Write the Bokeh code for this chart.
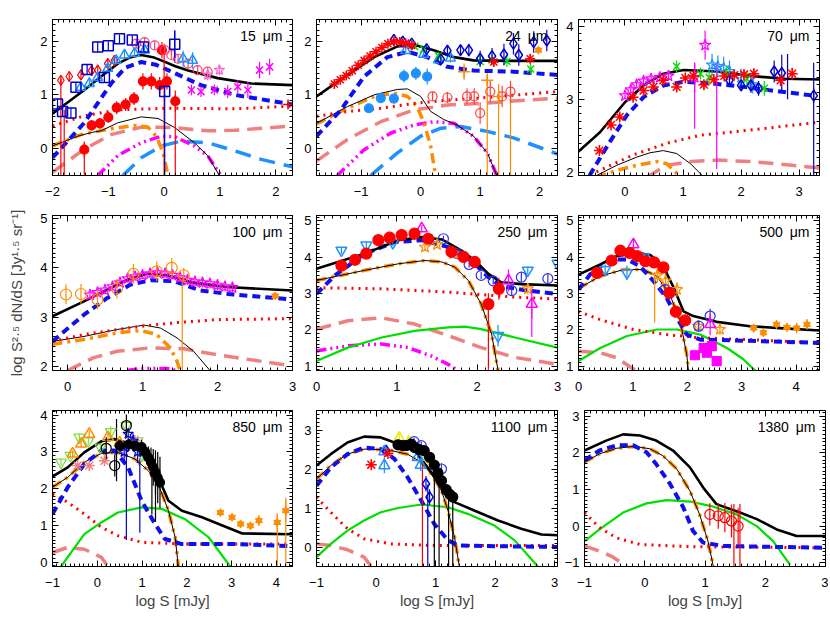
import numpy as np
from bokeh.plotting import figure
from bokeh.layouts import column, row
from bokeh.models import Range1d, FixedTicker, LinearAxis, Label
from bokeh.embed import file_html
from bokeh.resources import INLINE

FONT = "Liberation Sans"

# ------------------------------------------------------------------ curves
# each curve: list of (log S [mJy], log S^2.5 dN/dS)
# 15 micron
w15_total = [(-2.0, 0.65), (-1.43, 1.09), (-1.13, 1.34), (-0.83, 1.58), (-0.6, 1.70), (-0.41, 1.74), (-0.2, 1.70), (-0.05, 1.64), (0.2, 1.53), (0.43, 1.45), (0.96, 1.31), (1.56, 1.21), (2.3, 1.18)]
w15_blue = [(-2.0, -0.17), (-1.43, 0.48), (-0.95, 1.21), (-0.7, 1.50), (-0.41, 1.61), (-0.15, 1.56), (0.07, 1.46), (0.66, 1.18), (1.26, 1.0), (2.3, 0.82)]
w15_dot = [(-2.0, 0.42), (-1.43, 0.61), (-0.83, 0.72), (0.07, 0.75), (1.26, 0.74), (2.3, 0.79)]
w15_thin = [(-2.0, 0.05), (-1.55, 0.23), (-1.3, 0.30), (-1.13, 0.33), (-0.83, 0.48), (-0.41, 0.59), (-0.11, 0.56), (0.19, 0.39), (0.54, 0.11), (0.78, -0.13), (0.99, -0.5)]
w15_orange = [(-2.0, 0.05), (-1.49, 0.26), (-0.95, 0.37), (-0.53, 0.43), (-0.29, 0.40), (-0.14, 0.23), (-0.02, -0.07), (0.07, -0.5)]
w15_salmon = [(-2.0, -0.44), (-1.43, -0.01), (-0.95, 0.26), (-0.41, 0.40), (0.19, 0.39), (0.78, 0.33), (1.26, 0.34), (2.3, 0.42)]
w15_mag = [(-1.19, -0.5), (-0.83, -0.13), (-0.41, 0.11), (-0.05, 0.23), (0.19, 0.22), (0.54, 0.05), (0.78, -0.13), (1.02, -0.5)]
w15_lb = [(-0.74, -0.5), (-0.41, -0.17), (-0.05, 0.05), (0.31, 0.14), (0.78, 0.11), (1.26, -0.04), (1.74, -0.20), (2.3, -0.34)]

# 24 micron
w24_total = [(-1.75, 0.97), (-1.23, 1.37), (-0.78, 1.70), (-0.39, 1.90), (-0.11, 1.93), (0.22, 1.83), (0.56, 1.70), (0.89, 1.64), (1.56, 1.63), (2.3, 1.63)]
w24_blue = [(-1.75, 0.23), (-1.34, 0.72), (-0.95, 1.34), (-0.56, 1.70), (-0.22, 1.80), (0.11, 1.70), (0.45, 1.52), (0.89, 1.45), (1.56, 1.43), (2.3, 1.37)]
w24_dot = [(-1.75, 0.60), (-1.23, 0.69), (-0.67, 0.75), (-0.11, 0.84), (0.45, 0.90), (1.0, 0.94), (2.3, 1.06)]
w24_thin = [(-1.75, 0.47), (-1.23, 0.78), (-0.78, 1.0), (-0.39, 1.10), (-0.22, 1.11), (0.0, 0.97), (0.17, 0.69), (0.39, 0.54), (0.61, 0.44), (0.89, 0.23), (1.12, -0.08), (1.28, -0.5)]
w24_orange = [(-1.75, 0.46), (-1.23, 0.75), (-0.78, 0.97), (-0.45, 1.03), (-0.22, 0.97), (-0.06, 0.78), (0.06, 0.47), (0.17, 0.04), (0.25, -0.5)]
w24_salmon = [(-1.75, -0.23), (-1.23, 0.17), (-0.67, 0.50), (-0.11, 0.72), (0.45, 0.81), (1.0, 0.84), (2.3, 0.94)]
w24_mag = [(-1.4, -0.5), (-0.95, -0.02), (-0.5, 0.29), (-0.11, 0.44), (0.22, 0.50), (0.56, 0.47), (0.89, 0.23), (1.12, -0.08), (1.28, -0.5)]
w24_lb = [(-0.84, -0.5), (-0.39, -0.08), (0.0, 0.23), (0.34, 0.38), (0.67, 0.41), (1.12, 0.32), (1.56, 0.20), (2.3, -0.10)]

# 70 micron
w70_total = [(-0.81, 2.28), (-0.43, 2.55), (0.0, 2.96), (0.32, 3.19), (0.66, 3.35), (1.01, 3.40), (1.59, 3.38), (2.16, 3.32), (2.74, 3.28), (3.36, 3.27)]
w70_blue = [(-0.61, 1.96), (-0.26, 2.42), (0.03, 2.78), (0.32, 3.03), (0.66, 3.19), (1.01, 3.24), (1.59, 3.21), (2.05, 3.17), (2.63, 3.11), (3.26, 3.05)]
w70_dot = [(-0.49, 2.01), (0.14, 2.24), (0.72, 2.40), (1.30, 2.51), (2.16, 2.58), (3.36, 2.69)]
w70_thin = [(-0.49, 1.96), (-0.14, 2.10), (0.2, 2.21), (0.43, 2.27), (0.66, 2.30), (0.89, 2.26), (1.13, 2.12), (1.33, 1.96)]
w70_orange = [(-0.49, 1.94), (-0.14, 2.03), (0.2, 2.10), (0.55, 2.15), (0.72, 2.12), (0.87, 2.01), (0.92, 1.94)]
w70_salmon = [(0.38, 1.94), (0.72, 2.10), (1.13, 2.15), (1.59, 2.17), (2.16, 2.15), (2.74, 2.11), (3.36, 2.06)]

# 100 micron
w100_total = [(-0.2, 3.02), (0.22, 3.32), (0.53, 3.56), (0.8, 3.76), (1.06, 3.88), (1.33, 3.85), (1.68, 3.70), (2.12, 3.61), (3.0, 3.54)]
w100_blue = [(-0.2, 2.51), (0.22, 3.05), (0.53, 3.39), (0.84, 3.66), (1.11, 3.75), (1.42, 3.73), (1.77, 3.54), (2.21, 3.46), (3.0, 3.36)]
w100_dot = [(-0.2, 2.51), (0.22, 2.65), (0.66, 2.75), (1.02, 2.82), (1.46, 2.89), (1.99, 2.95), (3.0, 2.97)]
w100_thin = [(-0.2, 2.51), (0.22, 2.61), (0.66, 2.75), (1.02, 2.84), (1.24, 2.78), (1.46, 2.58), (1.68, 2.31), (1.9, 1.92)]
w100_orange = [(-0.2, 2.45), (0.22, 2.55), (0.66, 2.68), (0.97, 2.73), (1.19, 2.65), (1.37, 2.38), (1.46, 2.11), (1.5, 1.92)]
w100_salmon = [(0.0, 1.92), (0.35, 2.18), (0.66, 2.31), (1.11, 2.38), (1.55, 2.36), (1.99, 2.24), (2.57, 2.11), (3.0, 2.01)]
w100_mag = [(0.8, 1.92), (0.97, 1.96), (1.33, 1.96), (1.46, 1.92)]

# 250 micron
w250_total = [(0.0, 3.68), (0.6, 4.10), (1.02, 4.47), (1.31, 4.56), (1.56, 4.49), (1.80, 4.19), (1.97, 3.91), (2.14, 3.54), (2.3, 3.31), (2.55, 3.26), (3.0, 3.22)]
w250_blue = [(0.0, 2.99), (0.23, 3.50), (0.6, 4.10), (0.98, 4.42), (1.31, 4.47), (1.64, 4.28), (1.93, 3.91), (2.14, 3.45), (2.3, 3.20), (2.63, 3.08), (3.0, 2.99)]
w250_dot = [(0.0, 3.16), (0.81, 3.13), (1.64, 3.04), (2.47, 2.90), (3.0, 2.85)]
w250_orange = [(0.0, 3.36), (0.6, 3.64), (1.02, 3.82), (1.35, 3.91), (1.56, 3.87), (1.72, 3.73), (1.89, 3.36), (2.05, 2.71), (2.18, 1.88), (2.26, 0.88)]
w250_salmon = [(0.0, 2.02), (0.39, 2.25), (0.81, 2.33), (1.22, 2.16), (1.64, 1.84), (2.05, 1.51), (2.47, 1.24), (3.0, 1.05)]
w250_green = [(0.0, 1.14), (0.39, 1.51), (0.81, 1.79), (1.22, 1.97), (1.64, 2.07), (1.85, 2.09), (2.05, 2.02), (2.47, 1.79), (3.0, 1.51)]
w250_mag = [(0.0, 1.42), (0.39, 1.56), (0.81, 1.61), (1.14, 1.51), (1.43, 1.28), (1.64, 1.05), (1.76, 0.88)]

# 500 micron
w500_total = [(0.0, 3.52), (0.4, 3.80), (0.7, 4.03), (1.07, 4.12), (1.32, 4.06), (1.56, 3.75), (1.75, 3.16), (1.93, 2.51), (2.11, 2.38), (2.54, 2.22), (3.15, 2.10), (3.77, 2.04), (4.43, 1.98)]
w500_blue = [(0.0, 3.11), (0.21, 3.52), (0.58, 3.94), (0.89, 3.94), (1.13, 3.75), (1.38, 3.34), (1.62, 2.88), (1.81, 2.33), (1.99, 1.87), (2.24, 1.73), (2.85, 1.71), (4.43, 1.64)]
w500_dot = [(0.0, 2.51), (0.4, 2.28), (1.01, 2.01), (1.62, 1.87), (2.24, 1.78), (3.15, 1.73), (4.43, 1.64)]
w500_orange = [(0.0, 3.14), (0.4, 3.48), (0.83, 3.66), (1.19, 3.66), (1.44, 3.48), (1.68, 2.97), (1.87, 2.24), (1.99, 1.32), (2.02, 0.88)]
w500_salmon = [(0.0, 1.41), (0.4, 1.37), (0.7, 1.23), (1.07, 0.86)]
w500_green = [(0.0, 1.14), (0.4, 1.50), (0.89, 1.83), (1.44, 2.01), (1.81, 2.01), (2.24, 1.87), (2.73, 1.50), (3.03, 1.19), (3.25, 0.87)]

# 850 micron
w850_total = [(-1.0, 2.33), (-0.66, 2.58), (-0.29, 2.99), (0.09, 3.29), (0.39, 3.35), (0.76, 3.22), (1.06, 2.85), (1.36, 2.31), (1.59, 1.67), (1.89, 1.40), (2.34, 1.22), (2.71, 1.04), (3.24, 0.78), (4.36, 0.76)]
w850_blue = [(-1.0, 1.31), (-0.66, 2.04), (-0.29, 2.67), (0.09, 3.04), (0.39, 3.04), (0.69, 2.58), (0.99, 1.67), (1.29, 1.04), (1.51, 0.63), (1.89, 0.49), (3.09, 0.49), (4.36, 0.43)]
w850_dot = [(-1.0, 1.85), (-0.66, 1.63), (-0.29, 1.31), (0.09, 0.95), (0.46, 0.72), (0.99, 0.54), (1.96, 0.49), (4.36, 0.49)]
w850_orange = [(-1.0, 2.04), (-0.66, 2.31), (-0.29, 2.72), (0.09, 2.96), (0.46, 2.99), (0.84, 2.81), (1.14, 2.49), (1.36, 2.13), (1.59, 1.40), (1.74, 0.67), (1.81, -0.12)]
w850_salmon = [(-1.0, 0.26), (-0.66, 0.40), (-0.29, 0.35), (0.09, 0.13), (0.24, -0.12)]
w850_green = [(-0.81, -0.12), (-0.29, 0.76), (0.09, 1.08), (0.46, 1.35), (0.99, 1.49), (1.44, 1.45), (1.96, 1.17), (2.49, 0.67), (2.97, -0.12)]

# 1100 micron
w1100_total = [(-1.0, 2.09), (-0.76, 2.38), (-0.48, 2.68), (-0.2, 2.83), (0.08, 2.81), (0.31, 2.68), (0.65, 2.47), (0.87, 2.04), (1.1, 1.53), (1.32, 1.15), (1.66, 0.93), (2.05, 0.68), (2.44, 0.47), (2.78, 0.32), (3.05, 0.30)]
w1100_blue = [(-1.0, 1.57), (-0.76, 2.04), (-0.48, 2.38), (-0.2, 2.55), (0.08, 2.51), (0.31, 2.26), (0.53, 1.79), (0.76, 1.19), (0.98, 0.59), (1.21, 0.17), (1.38, 0.04), (2.05, 0.02), (3.05, 0.0)]
w1100_dot = [(-1.0, 1.28), (-0.76, 0.89), (-0.48, 0.47), (-0.2, 0.21), (0.25, 0.08), (0.93, 0.04), (3.05, 0.04)]
w1100_orange = [(-1.0, 1.74), (-0.76, 2.09), (-0.48, 2.38), (-0.2, 2.51), (0.2, 2.49), (0.53, 2.38), (0.76, 2.17), (0.93, 1.87), (1.1, 1.45), (1.21, 0.93), (1.32, 0.25), (1.40, -0.5)]
w1100_salmon = [(-1.0, 0.08), (-0.76, 0.04), (-0.48, -0.07), (-0.2, -0.26), (-0.08, -0.5)]
w1100_green = [(-1.0, -0.26), (-0.76, 0.08), (-0.48, 0.42), (-0.2, 0.68), (0.08, 0.89), (0.37, 1.0), (0.76, 1.09), (1.21, 1.02), (1.54, 0.85), (1.99, 0.55), (2.33, 0.17), (2.72, -0.5)]

# 1380 micron
w1380_total = [(-1.0, 2.06), (-0.64, 2.33), (-0.36, 2.50), (-0.08, 2.47), (0.19, 2.33), (0.47, 2.06), (0.75, 1.60), (0.97, 1.05), (1.19, 0.60), (1.58, 0.37), (1.86, 0.19), (2.19, -0.09), (2.52, -0.27), (3.0, -0.27)]
w1380_blue = [(-1.0, 1.79), (-0.75, 2.06), (-0.47, 2.20), (-0.19, 2.20), (0.03, 2.01), (0.19, 1.69), (0.42, 1.15), (0.64, 0.51), (0.80, -0.13), (0.97, -0.45), (1.30, -0.54), (3.0, -0.59)]
w1380_dot = [(-1.0, 0.37), (-0.75, -0.04), (-0.47, -0.32), (-0.08, -0.50), (0.75, -0.56), (3.0, -0.59)]
w1380_orange = [(-1.0, 1.74), (-0.75, 1.97), (-0.47, 2.12), (-0.19, 2.17), (0.08, 2.11), (0.30, 1.92), (0.53, 1.56), (0.75, 0.96), (0.91, 0.32), (1.05, -0.41), (1.14, -1.11)]
w1380_salmon = [(-1.0, -0.54), (-0.75, -0.68), (-0.53, -0.84), (-0.39, -1.0), (-0.3, -1.11)]
w1380_green = [(-1.0, -0.41), (-0.75, -0.09), (-0.36, 0.37), (0.03, 0.62), (0.36, 0.71), (0.75, 0.67), (1.14, 0.53), (1.52, 0.32), (1.86, 0.0), (2.13, -0.41), (2.41, -1.05)]

# ------------------------------------------------------------------ data points (x, y, err)
d15_sq = [(-1.91, 0.83, 0.1), (-1.82, 0.69, 0.1), (-1.67, 0.66, 0.1), (-1.58, 1.14, 0.1), (-1.38, 1.47, 0.1), (-1.07, 1.32, 0.1), (-1.19, 1.89, 0.1), (-1.0, 1.91, 0.08), (-0.8, 2.04, 0.08), (-0.57, 2.02, 0.08), (-0.37, 1.89, 0.08), (0.01, 1.06, 0.1), (0.19, 1.94, 0.25)]
d15_dm = [(-1.85, 1.27, 0.1), (-1.7, 1.34, 0.1), (-1.49, 1.37, 0.1), (-1.3, 1.45, 0.1), (-1.19, 1.46, 0.1), (-1.01, 1.58, 0.1), (-0.89, 1.64, 0.1)]
d15_fc = [(-1.43, -0.02, 0.15), (-1.3, 0.43, 0.1), (-1.15, 0.47, 0.1), (-1.0, 0.58, 0.1), (-0.85, 0.76, 0.12), (-0.69, 0.82, 0.12), (-0.54, 0.93, 0.12), (-0.38, 1.25, 0.15), (-0.23, 1.25, 0.15), (-0.08, 1.18, 0.15), (0.05, 1.25, 0.15), (0.2, 0.88, 0.2), (-0.04, 1.83, 0.15)]
d15_tr = [(-1.49, 1.14, 0.08), (-1.34, 1.21, 0.08), (-1.19, 1.32, 0.08), (-1.01, 1.49, 0.08), (-0.86, 1.64, 0.08), (-0.71, 1.74, 0.08), (-0.53, 1.77, 0.08), (-0.35, 1.83, 0.08), (0.34, 1.67, 0.15), (0.51, 1.64, 0.15)]
d15_oc = [(-0.5, 1.95, 0.08), (-0.35, 1.98, 0.08), (-0.17, 1.92, 0.08), (0.01, 1.83, 0.08), (0.13, 1.74, 0.08), (0.25, 1.67, 0.08), (0.43, 1.58, 0.08), (0.6, 1.46, 0.08), (0.78, 1.43, 0.08)]
d15_mx = [(0.49, 1.09, 0.1), (0.66, 1.06, 0.1), (0.9, 1.09, 0.1), (1.14, 1.06, 0.12), (1.32, 1.15, 0.12), (1.5, 1.09, 0.15), (1.71, 1.46, 0.15), (1.89, 1.52, 0.15)]
d15_st = [(0.78, 1.37, 0.1), (0.99, 1.46, 0.1)]
d15_pl = [(2.22, 0.82, 0.05)]
b15_red = [(-1.85, -0.5, 1.3), (-1.79, -0.5, 0.72), (-1.43, -0.5, 0.1), (0.0, -0.5, 1.95), (0.2, -0.5, 1.0)]
b15_blue = [(0.01, -0.5, 1.0), (0.19, 1.6, 2.2)]

d24_as = [(-1.45, 1.2, 0.05), (-1.35, 1.28, 0.05), (-1.25, 1.36, 0.05), (-1.15, 1.45, 0.05), (-1.05, 1.55, 0.05), (-0.95, 1.64, 0.05), (-0.85, 1.72, 0.05), (-0.75, 1.80, 0.05), (-0.65, 1.88, 0.05), (-0.55, 1.95, 0.05), (-0.45, 1.99, 0.05), (-0.35, 1.98, 0.05), (-0.25, 1.96, 0.05), (-0.15, 1.92, 0.05), (1.23, 1.61, 0.08), (1.84, 1.67, 0.08)]
d24_dd = [(-0.45, 2.02, 0.05), (-0.3, 1.99, 0.05), (-0.15, 1.95, 0.05), (0.1, 1.85, 0.06), (0.34, 1.66, 0.08), (0.45, 1.82, 0.1), (0.67, 1.83, 0.1), (0.81, 1.83, 0.12), (1.0, 1.67, 0.15), (1.2, 1.72, 0.15), (1.4, 1.75, 0.2), (1.56, 1.95, 0.2), (1.65, 1.74, 0.2), (1.9, 1.98, 0.2), (2.12, 2.01, 0.2)]
d24_gx = [(-0.1, 1.90, 0.05), (0.05, 1.85, 0.05), (0.3, 1.72, 0.08), (1.0, 1.62, 0.1), (1.2, 1.65, 0.1), (1.45, 1.62, 0.1), (1.85, 1.48, 0.1)]
d24_tr = [(-0.25, 1.82, 0.05), (0.05, 1.75, 0.05), (0.3, 1.65, 0.08), (0.5, 1.68, 0.08)]
d24_fc = [(-0.87, 0.75, 0.08), (-0.67, 0.94, 0.08), (-0.45, 0.93, 0.08), (-0.28, 1.35, 0.12), (-0.08, 1.40, 0.12), (0.11, 1.34, 0.15)]
d24_oc = [(0.2, 0.97, 0.08), (0.45, 0.95, 0.1), (0.78, 0.97, 0.15), (0.9, 0.97, 0.15), (1.17, 1.06, 0.2), (1.37, 0.97, 0.2), (1.51, 1.06, 0.2), (1.0, 0.66, 0.2)]
d24_op = [(0.73, 1.43, 0.15), (1.12, 1.27, 0.1), (1.31, 0.97, 0.1)]
d24_hg = [(1.98, 1.83, 0.05)]
b24_orange = [(1.12, -0.5, 1.4), (1.31, -0.5, 1.2), (1.51, -0.5, 1.2)]

d70_as = [(-0.44, 2.30, 0.05), (-0.24, 2.65, 0.05), (-0.09, 2.76, 0.05), (0.14, 3.03, 0.05), (0.32, 3.12, 0.05), (0.49, 3.17, 0.05), (0.66, 3.26, 0.05), (0.89, 3.17, 0.06), (1.04, 3.29, 0.06), (1.18, 3.32, 0.06), (1.36, 3.20, 0.06), (1.53, 3.27, 0.06), (1.71, 3.32, 0.06), (1.88, 3.33, 0.06), (2.05, 3.34, 0.06), (2.22, 3.35, 0.06), (2.68, 3.26, 0.08), (2.88, 3.35, 0.08)]
d70_ms = [(0.0, 3.05, 0.05), (0.1, 3.13, 0.05), (0.2, 3.20, 0.05), (0.32, 3.25, 0.05), (0.45, 3.28, 0.05), (0.6, 3.30, 0.06), (0.75, 3.32, 0.06), (1.2, 3.30, 0.2), (1.38, 3.74, 0.2)]
d70_lbs = [(1.5, 3.47, 0.15), (1.6, 3.45, 0.15), (1.7, 3.43, 0.15), (1.8, 3.38, 0.15), (2.0, 3.30, 0.12), (2.2, 3.20, 0.12)]
d70_gx = [(0.89, 3.45, 0.08), (1.3, 3.35, 0.08), (1.45, 3.30, 0.1), (1.75, 3.35, 0.1), (2.1, 3.28, 0.1), (2.4, 3.15, 0.1)]
d70_dd = [(1.8, 3.26, 0.08), (2.0, 3.19, 0.08), (2.17, 3.19, 0.1), (2.3, 3.15, 0.1), (2.57, 3.38, 0.15), (2.7, 3.36, 0.25), (3.25, 3.05, 0.1)]
b70_blue = [(3.25, 1.96, 3.5), (2.8, 3.0, 3.62)]
b70_mag = [(1.58, 2.05, 3.5), (1.2, 2.6, 3.5)]

d100_ms = [(0.3, 3.45, 0.08), (0.4, 3.50, 0.08), (0.5, 3.55, 0.08), (0.6, 3.62, 0.08), (0.7, 3.70, 0.08), (0.8, 3.78, 0.08), (0.9, 3.82, 0.08), (1.0, 3.85, 0.08), (1.1, 3.88, 0.08), (1.2, 3.90, 0.08), (1.3, 3.88, 0.08), (1.4, 3.85, 0.08), (1.5, 3.80, 0.08), (1.6, 3.75, 0.1), (1.7, 3.72, 0.1), (1.8, 3.70, 0.1), (1.9, 3.68, 0.1), (2.0, 3.65, 0.1), (2.1, 3.62, 0.1), (2.2, 3.60, 0.1)]
d100_oc = [(-0.02, 3.46, 0.2), (0.18, 3.47, 0.2), (0.40, 3.36, 0.2), (0.66, 3.58, 0.2), (0.88, 3.88, 0.2), (1.19, 3.93, 0.2), (1.39, 4.0, 0.2), (1.55, 3.85, 0.15)]
d100_hg = [(2.77, 3.43, 0.05)]
b100_orange = [(1.53, 1.92, 3.85)]

d250_fc = [(0.31, 3.77, 0.05), (0.48, 3.93, 0.05), (0.62, 4.10, 0.05), (0.77, 4.47, 0.05), (0.91, 4.54, 0.05), (1.06, 4.61, 0.05), (1.22, 4.65, 0.05), (1.39, 4.51, 0.05), (1.68, 4.15, 0.05), (1.83, 4.01, 0.05), (1.97, 3.87, 0.05), (2.14, 2.71, 0.3), (2.27, 3.13, 0.3)]
d250_it = [(0.31, 4.19, 0.1), (0.62, 4.33, 0.1), (0.95, 4.40, 0.1), (2.26, 1.84, 0.3), (2.63, 3.64, 0.1), (3.0, 3.83, 0.1)]
d250_bo = [(1.58, 4.51, 0.08), (1.75, 4.10, 0.08), (1.9, 3.80, 0.08), (2.05, 3.50, 0.1), (2.2, 3.35, 0.1), (2.43, 3.08, 0.12), (2.55, 3.45, 0.12), (2.88, 3.41, 0.15)]
d250_mt = [(1.31, 4.79, 0.1), (2.39, 3.36, 0.3), (2.68, 2.71, 0.4)]
d250_os = [(1.35, 4.28, 0.1), (1.5, 4.35, 0.1), (1.7, 4.10, 0.1), (2.63, 3.13, 0.15)]
b250_red = [(2.14, 0.9, 2.9)]
b250_mag = [(2.68, 1.8, 2.9)]

d500_fc = [(0.34, 3.57, 0.05), (0.61, 3.91, 0.05), (0.77, 4.18, 0.05), (0.94, 4.12, 0.05), (1.08, 4.03, 0.05), (1.23, 3.89, 0.05), (1.39, 3.86, 0.05), (1.56, 3.72, 0.05), (1.67, 3.02, 0.1), (1.79, 2.50, 0.1), (1.96, 2.26, 0.1)]
d500_mt = [(1.01, 4.35, 0.15), (2.42, 2.15, 0.3)]
d500_msq = [(2.14, 1.30, 0.08), (2.30, 1.50, 0.08), (2.36, 1.37, 0.08), (2.45, 1.55, 0.1), (2.54, 1.14, 0.1)]
d500_hg = [(3.22, 2.05, 0.12), (3.4, 1.92, 0.12), (3.64, 2.15, 0.12), (3.83, 2.07, 0.12), (4.01, 2.05, 0.15), (4.2, 2.15, 0.15)]
d500_os = [(1.45, 3.50, 0.2), (1.6, 3.35, 0.2), (1.81, 3.11, 0.2), (2.2, 2.10, 0.15), (2.6, 2.01, 0.15)]
d500_bo = [(1.59, 3.11, 0.15), (2.21, 2.10, 0.15), (2.42, 2.38, 0.2)]
d500_it = [(0.49, 3.66, 0.15), (0.89, 3.57, 0.2), (1.2, 4.00, 0.1)]
b500_orange = [(1.4, 2.2, 3.6)]

d850_gt = [(-0.81, 2.72, 0.1), (-0.6, 2.90, 0.1), (-0.4, 3.40, 0.1), (-0.2, 3.30, 0.1), (0.07, 3.13, 0.1), (0.3, 3.55, 0.15), (0.65, 3.72, 0.15), (0.9, 3.30, 0.15), (1.0, 2.90, 0.15)]
d850_ot = [(-0.55, 2.95, 0.1), (-0.36, 3.22, 0.1), (-0.18, 3.49, 0.1), (0.24, 3.40, 0.1), (0.5, 3.25, 0.1)]
d850_sa = [(-0.44, 2.63, 0.05), (-0.18, 2.63, 0.05), (0.16, 2.76, 0.05), (0.84, 3.31, 0.1)]
d850_bc = [(0.39, 2.63, 0.3), (0.65, 3.72, 0.3), (0.2, 3.10, 0.3)]
d850_fc = [(0.5, 3.17, 0.15), (0.7, 3.20, 0.15), (0.84, 3.17, 0.15), (0.99, 3.13, 0.2), (1.07, 3.00, 0.2), (1.14, 2.85, 0.3), (1.2, 2.72, 0.4), (1.25, 2.58, 0.5), (1.3, 2.45, 0.6), (1.35, 2.30, 0.7), (1.4, 2.17, 0.7)]
d850_bs = [(0.69, 3.49, 0.15), (0.8, 3.30, 0.2), (0.9, 3.00, 0.3), (0.6, 3.00, 0.3)]
d850_hg = [(2.75, 1.35, 0.08), (3.01, 1.22, 0.08), (3.2, 1.04, 0.08), (3.42, 0.99, 0.1), (3.61, 1.13, 0.15), (4.02, 1.08, 0.25), (4.21, 1.40, 0.3)]
b850_blue = [(0.65, 0.6, 3.3), (0.95, 0.8, 3.0)]
b850_black = [(0.43, 2.2, 3.9), (1.22, 1.3, 2.8), (1.3, 1.1, 2.6)]
b850_orange = [(4.02, -0.12, 1.3), (4.21, -0.12, 1.75)]

d1100_as = [(-0.08, 2.11, 0.05), (0.2, 2.40, 0.05)]
d1100_lt = [(0.14, 2.09, 0.2), (0.14, 2.45, 0.1), (0.7, 2.30, 0.1), (0.75, 2.10, 0.15)]
d1100_fc = [(0.37, 2.62, 0.05), (0.45, 2.60, 0.05), (0.51, 2.60, 0.05), (0.59, 2.64, 0.05), (0.65, 2.55, 0.05), (0.73, 2.50, 0.05), (0.81, 2.47, 0.05), (0.9, 2.30, 0.08), (0.98, 2.10, 0.1), (1.04, 1.90, 0.1), (1.1, 1.70, 0.1), (1.18, 1.47, 0.1), (1.24, 1.35, 0.1), (1.29, 1.28, 0.1)]
d1100_yt = [(0.39, 2.81, 0.1), (0.55, 2.70, 0.1), (0.85, 2.30, 0.15), (0.95, 2.20, 0.15)]
d1100_bo = [(0.64, 2.70, 0.1), (0.76, 2.60, 0.1), (1.1, 2.00, 0.15)]
d1100_bd = [(0.17, 2.47, 0.1), (0.84, 1.62, 0.2), (0.9, 1.28, 0.2)]
b1100_red = [(0.78, -0.5, 2.2)]
b1100_blue = [(0.87, -0.5, 1.6)]
b1100_black = [(0.98, -0.5, 2.0), (1.06, -0.5, 1.8), (1.22, -0.5, 1.4), (1.29, -0.5, 1.2)]

d1380_oc = [(1.08, 0.32, 0.3), (1.22, 0.28, 0.35), (1.33, 0.23, 0.4), (1.44, 0.14, 0.45), (1.55, 0.0, 0.5)]
b1380_red = [(1.48, -1.1, 0.6), (1.58, -1.1, 0.6)]

# ------------------------------------------------------------------ styling
RED = "#ff0000"
BLUE = "#1010ee"
DBLUE = "#0000cc"
LBLUE = "#1e90ff"
ORANGE = "#ff8c00"
SALMON = "#f08080"
MAGENTA = "#ff00ff"
GREEN = "#00e000"
PINK = "#ff60d0"
YELLOW = "#e8e800"
LGREEN = "#80dd40"


def xs(c):
    return [a for a, b in c]


def ys(c):
    return [b for a, b in c]


def curve(p, c, kind):
    if c is None:
        return
    if kind == "total":
        p.line(xs(c), ys(c), line_color="black", line_width=2.6)
    elif kind == "blue":
        p.line(xs(c), ys(c), line_color=BLUE, line_width=4, line_dash="8 5")
    elif kind == "dot":
        p.line(xs(c), ys(c), line_color=RED, line_width=3, line_dash="2 5")
    elif kind == "thin":
        p.line(xs(c), ys(c), line_color="black", line_width=1)
    elif kind == "orange":
        p.line(xs(c), ys(c), line_color=ORANGE, line_width=3.5, line_dash="10 5 3 5")
    elif kind == "salmon":
        p.line(xs(c), ys(c), line_color=SALMON, line_width=3.5, line_dash="15 8")
    elif kind == "mag":
        p.line(xs(c), ys(c), line_color=MAGENTA, line_width=3.5, line_dash="10 4 2 4 2 4 2 4")
    elif kind == "lb":
        p.line(xs(c), ys(c), line_color=LBLUE, line_width=3.5, line_dash="16 9")
    elif kind == "green":
        p.line(xs(c), ys(c), line_color=GREEN, line_width=2.2)


def pts(p, d, marker, color, fill=False, size=9, lw=1.2, fill_color=None):
    x = [a[0] for a in d]
    y = [a[1] for a in d]
    e = [a[2] for a in d]
    p.segment(x, [yy - ee for yy, ee in zip(y, e)], x, [yy + ee for yy, ee in zip(y, e)],
              line_color=color, line_width=1.2)
    fc = (fill_color or color) if fill else None
    p.scatter(x, y, marker=marker, size=size, line_color=color, line_width=lw,
              fill_color=fc)


def bars(p, b, color):
    p.segment([a[0] for a in b], [a[1] for a in b], [a[0] for a in b], [a[2] for a in b],
              line_color=color, line_width=1.2)


def hourglass(p, d, color):
    x = [a[0] for a in d]
    y = [a[1] for a in d]
    e = [a[2] for a in d]
    p.segment(x, [yy - ee for yy, ee in zip(y, e)], x, [yy + ee for yy, ee in zip(y, e)],
              line_color=color, line_width=1.2)
    p.scatter(x, y, marker="triangle", size=7, line_color=color, fill_color=color)
    p.scatter(x, y, marker="inverted_triangle", size=7, line_color=color, fill_color=color)


def fmt_ticks(ax, lo, hi):
    ticks = [t for t in range(int(np.floor(lo)), int(np.ceil(hi)) + 1) if lo - 1e-9 <= t <= hi + 1e-9]
    minors = [round(v, 2) for v in np.arange(np.floor(lo), np.ceil(hi) + 0.01, 0.1)
              if lo <= v <= hi and abs(v - round(v)) > 1e-6]
    ax.ticker = FixedTicker(ticks=ticks, minor_ticks=minors)
    ax.major_label_overrides = {t: ("\u2212" + str(abs(t))) if t < 0 else str(t) for t in ticks}


def style_axis(ax, show):
    ax.axis_line_color = "black"
    ax.axis_line_width = 1
    ax.major_tick_line_color = "black"
    ax.minor_tick_line_color = "black"
    ax.major_tick_in = 6
    ax.major_tick_out = 0
    ax.minor_tick_in = 3
    ax.minor_tick_out = 0
    ax.major_label_text_font = FONT
    if show:
        ax.major_label_text_color = "black"
        ax.major_label_text_font_size = "13px"
    else:
        ax.major_label_text_color = None
        ax.major_label_text_font_size = "1px"
        ax.major_label_standoff = 0


def panel(xr, yr, bl, br, bt, bb, fw, fh, name, xlabel=None, ylabel=None):
    p = figure(frame_width=fw, frame_height=fh, x_range=Range1d(*xr), y_range=Range1d(*yr),
               output_backend="svg", toolbar_location=None,
               min_border_left=bl, min_border_right=br, min_border_top=bt, min_border_bottom=bb)
    p.grid.visible = False
    p.outline_line_color = "black"
    p.outline_line_width = 1
    p.background_fill_color = "white"
    p.border_fill_color = "white"
    top = LinearAxis()
    right = LinearAxis()
    p.add_layout(top, "above")
    p.add_layout(right, "right")
    for ax in (p.below[0], top):
        fmt_ticks(ax, *xr)
    for ax in (p.left[0], right):
        fmt_ticks(ax, *yr)
    style_axis(p.below[0], True)
    style_axis(p.left[0], True)
    style_axis(top, False)
    style_axis(right, False)
    p.below[0].major_label_standoff = 11
    p.left[0].major_label_standoff = 5
    if xlabel:
        p.below[0].axis_label = xlabel
        p.below[0].axis_label_text_font = FONT
        p.below[0].axis_label_text_font_size = "15px"
        p.below[0].axis_label_text_font_style = "normal"
        p.below[0].axis_label_standoff = 2
    if ylabel:
        p.left[0].axis_label = ylabel
        p.left[0].axis_label_text_font = FONT
        p.left[0].axis_label_text_font_size = "15px"
        p.left[0].axis_label_text_font_style = "normal"
        p.left[0].axis_label_standoff = 12
    lx = xr[1] - (10.0 / fw) * (xr[1] - xr[0])
    ly = yr[1] - (8.0 / fh) * (yr[1] - yr[0])
    p.add_layout(Label(x=lx, y=ly, text=name, text_align="right", text_baseline="top",
                       text_font=FONT, text_font_size="14px", text_color="black"))
    return p


def draw_models(p, total, blue, dot, thin, orange, salmon=None, mag=None, lb=None, green=None, overlay=False):
    curve(p, salmon, "salmon")
    curve(p, lb, "lb")
    curve(p, mag, "mag")
    curve(p, green, "green")
    curve(p, orange, "orange")
    if overlay:
        curve(p, orange, "thin")
    curve(p, thin, "thin")
    curve(p, dot, "dot")
    curve(p, blue, "blue")
    curve(p, total, "total")


XL = "log S [mJy]"
YL = "log S\u00b2\u00b7\u2075 dN/dS [Jy\u00b9\u00b7\u2075 sr\u207b\u00b9]"
UM = "\u2002\u03bcm"

# column geometry (left border, right border, frame width)
C1 = (52, 4, 240)
C2 = (20, 4, 241)
C3 = (17, 3, 241)
# row geometry (top border, bottom border, frame height)
R1 = (19, 24, 156)
R2 = (16, 24, 155)
R3 = (16, 44, 156)


def geom(c, r):
    return dict(bl=c[0], br=c[1], fw=c[2], bt=r[0], bb=r[1], fh=r[2])


# ---- 15 um
p15 = panel((-2.0, 2.3), (-0.5, 2.4), name="15" + UM, **geom(C1, R1))
draw_models(p15, w15_total, w15_blue, w15_dot, w15_thin, w15_orange, w15_salmon, w15_mag, w15_lb)
bars(p15, b15_red, RED)
bars(p15, b15_blue, DBLUE)
pts(p15, d15_fc, "circle", RED, fill=True, size=9)
pts(p15, d15_dm, "diamond", RED, size=10)
pts(p15, d15_oc, "circle", "#ff4070", size=9)
pts(p15, d15_tr, "triangle", LBLUE, size=10, lw=1.5)
pts(p15, d15_sq, "square", DBLUE, size=10, lw=1.5)
pts(p15, d15_mx, "x", MAGENTA, size=10, lw=1.5)
pts(p15, d15_st, "star", PINK, size=11)
pts(p15, d15_pl, "cross", RED, size=10, lw=1.5)

# ---- 24 um
p24 = panel((-1.75, 2.3), (-0.5, 2.4), name="24" + UM, **geom(C2, R1))
draw_models(p24, w24_total, w24_blue, w24_dot, w24_thin, w24_orange, w24_salmon, w24_mag, w24_lb)
bars(p24, b24_orange, ORANGE)
pts(p24, d24_fc, "circle", LBLUE, fill=True, size=9)
pts(p24, d24_oc, "circle", "#ff4040", size=9)
pts(p24, d24_op, "cross", ORANGE, size=12, lw=1.5)
pts(p24, d24_tr, "triangle", LBLUE, size=10, lw=1.5)
pts(p24, d24_gx, "x", GREEN, size=10, lw=1.5)
pts(p24, d24_dd, "diamond", DBLUE, size=11, lw=1.5)
pts(p24, d24_as, "asterisk", RED, size=10, lw=1.5)
hourglass(p24, d24_hg, ORANGE)

# ---- 70 um
p70 = panel((-0.8, 3.35), (1.96, 4.09), name="70" + UM, **geom(C3, R1))
draw_models(p70, w70_total, w70_blue, w70_dot, w70_thin, w70_orange, w70_salmon)
bars(p70, b70_blue, DBLUE)
bars(p70, b70_mag, MAGENTA)
pts(p70, d70_ms, "star", MAGENTA, size=12)
pts(p70, d70_lbs, "star", LBLUE, size=12)
pts(p70, d70_gx, "x", GREEN, size=10, lw=1.5)
pts(p70, d70_dd, "diamond", DBLUE, size=11, lw=1.5)
pts(p70, d70_as, "asterisk", RED, size=11, lw=1.5)

# ---- 100 um
p100 = panel((-0.2, 3.0), (1.92, 5.06), name="100" + UM, ylabel=YL, **geom(C1, R2))
draw_models(p100, w100_total, w100_blue, w100_dot, w100_thin, w100_orange, w100_salmon, w100_mag)
bars(p100, b100_orange, ORANGE)
pts(p100, d100_ms, "star", MAGENTA, size=12)
pts(p100, d100_oc, "circle", ORANGE, size=11)
hourglass(p100, d100_hg, ORANGE)

# ---- 250 um
p250 = panel((0.0, 3.0), (0.88, 5.15), name="250" + UM, **geom(C2, R2))
draw_models(p250, w250_total, w250_blue, w250_dot, None, w250_orange, w250_salmon, w250_mag, None, w250_green, overlay=True)
bars(p250, b250_red, RED)
bars(p250, b250_mag, MAGENTA)
pts(p250, d250_it, "inverted_triangle", LBLUE, size=11, lw=1.5)
pts(p250, d250_bo, "circle", "#3030ee", size=10)
pts(p250, d250_os, "star", ORANGE, size=12)
pts(p250, d250_mt, "triangle", MAGENTA, size=11, lw=1.5)
pts(p250, d250_fc, "circle", RED, fill=True, size=11)

# ---- 500 um
p500 = panel((0.0, 4.43), (0.88, 5.15), name="500" + UM, **geom(C3, R2))
draw_models(p500, w500_total, w500_blue, w500_dot, None, w500_orange, w500_salmon, None, None, w500_green, overlay=True)
bars(p500, b500_orange, ORANGE)
pts(p500, d500_it, "inverted_triangle", LBLUE, size=11, lw=1.5)
pts(p500, d500_os, "star", ORANGE, size=12)
pts(p500, d500_bo, "circle", "#3030ee", size=10)
pts(p500, d500_mt, "triangle", MAGENTA, size=11, lw=1.5)
pts(p500, d500_fc, "circle", RED, fill=True, size=11)
pts(p500, d500_msq, "square", MAGENTA, fill=True, size=9)
hourglass(p500, d500_hg, ORANGE)

# ---- 850 um
p850 = panel((-1.0, 4.36), (-0.12, 4.13), name="850" + UM, xlabel=XL, **geom(C1, R3))
draw_models(p850, w850_total, w850_blue, w850_dot, None, w850_orange, w850_salmon, None, None, w850_green, overlay=True)
bars(p850, b850_blue, DBLUE)
bars(p850, b850_black, "black")
bars(p850, b850_orange, ORANGE)
pts(p850, d850_gt, "inverted_triangle", LGREEN, size=11)
pts(p850, d850_ot, "triangle", ORANGE, size=11, lw=1.5)
pts(p850, d850_sa, "asterisk", SALMON, size=11, lw=1.5)
pts(p850, d850_bs, "star", DBLUE, size=11)
pts(p850, d850_bc, "circle", "black", size=10)
pts(p850, d850_fc, "circle", "black", fill=True, size=9)
hourglass(p850, d850_hg, ORANGE)

# ---- 1100 um
p1100 = panel((-1.0, 3.05), (-0.5, 3.5), name="1100" + UM, xlabel=XL, **geom(C2, R3))
draw_models(p1100, w1100_total, w1100_blue, w1100_dot, None, w1100_orange, w1100_salmon, None, None, w1100_green, overlay=True)
bars(p1100, b1100_red, RED)
bars(p1100, b1100_blue, DBLUE)
bars(p1100, b1100_black, "black")
pts(p1100, d1100_yt, "triangle", YELLOW, size=10, lw=1.5)
pts(p1100, d1100_bo, "circle", "#3030ee", size=10)
pts(p1100, d1100_bd, "diamond", DBLUE, size=11, lw=1.5)
pts(p1100, d1100_lt, "triangle", LBLUE, size=11, lw=1.5)
pts(p1100, d1100_as, "asterisk", RED, size=11, lw=1.5)
pts(p1100, d1100_fc, "circle", "black", fill=True, size=10)

# ---- 1380 um
p1380 = panel((-1.0, 3.0), (-1.1, 3.15), name="1380" + UM, xlabel=XL, **geom(C3, R3))
draw_models(p1380, w1380_total, w1380_blue, w1380_dot, None, w1380_orange, w1380_salmon, None, None, w1380_green, overlay=True)
bars(p1380, b1380_red, RED)
pts(p1380, d1380_oc, "circle", RED, size=10)

layout = column(row(p15, p24, p70, spacing=0), row(p100, p250, p500, spacing=0),
                row(p850, p1100, p1380, spacing=0), spacing=0)

open("out.html", "w").write(file_html(layout, INLINE))
